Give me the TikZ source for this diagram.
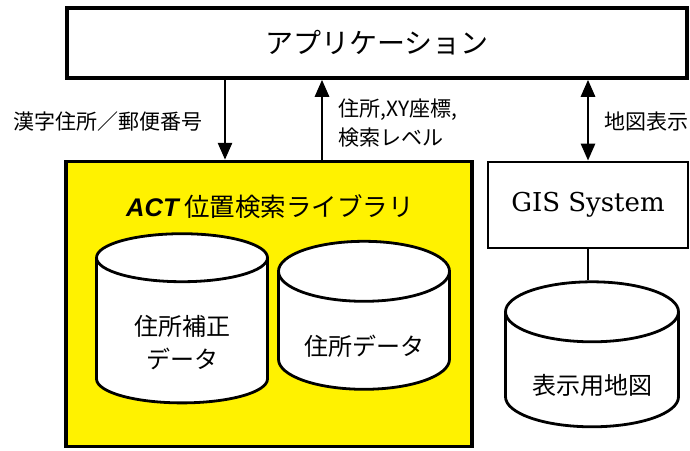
\documentclass[tikz,border=0pt]{standalone}
\usepackage{fontspec}
\newfontfamily\jpfont{Noto Sans CJK JP}
\newfontfamily\arialfont{Liberation Sans}
\newfontfamily\centuryfont{DejaVu Serif}
\usetikzlibrary{shapes.geometric,arrows.meta}

\begin{document}
\begin{tikzpicture}[x=1pt,y=-1pt,
    box/.style={draw,line width=3.5pt,fill=white,inner sep=0pt},
    db/.style={cylinder,shape border rotate=90,draw,line width=2.8pt,fill=white,
        aspect=0.5,minimum width=171pt,minimum height=148pt,inner sep=0pt,
        text height=51pt,align=center,font=\jpfont\fontsize{24}{33}\selectfont},
    arr/.style={line width=2.8pt,-{Triangle[length=17pt,width=14pt]}},
    lbl/.style={font=\jpfont\fontsize{21}{29}\selectfont,align=left}]

\useasboundingbox (0,0) rectangle (690,450);

\node[box,minimum width=620pt,minimum height=70pt,
    font=\jpfont\fontsize{28}{30}\selectfont] (app) at (377,43) {アプリケーション};
\node[box,fill=yellow,minimum width=406pt,minimum height=285pt] (act) at (269,304) {};
\node[font=\jpfont\fontsize{25.5}{30}\selectfont] (title) at (270,207)
    {{\arialfont\bfseries\itshape ACT} 位置検索ライブラリ};

\node[db,text height=69pt] (hosei) at (182,331)
    {\begin{tabular}{@{}c@{}}住所補正\\データ\end{tabular}};
\node[db] (jusho) at (364,331) {住所データ};

\node[box,line width=2.8pt,minimum width=200pt,minimum height=86pt,
    font=\centuryfont\fontsize{26}{30}\selectfont] (gis) at (588,205) {GIS System};
\node[db,minimum width=173pt,minimum height=145pt] (chizu) at (592,370) {表示用地図};

% connectors
\coordinate (dn) at (225,0);
\coordinate (up) at (322,0);
\draw[arr] (app.south -| dn) -- (act.north -| dn);
\draw[arr] (act.north -| up) -- (app.south -| up);
\draw[arr,{Triangle[length=17pt,width=14pt]}-{Triangle[length=17pt,width=14pt]}]
    (app.south -| gis) -- (gis.north);
\draw[line width=2.8pt] (gis.south) -- (gis.south |- chizu.north);

\node[lbl,anchor=east] (kanji) at (206,122) {漢字住所／郵便番号};
\node[lbl,anchor=west] (zahyo) at (335,123) {住所,XY座標,\\検索レベル};
\node[lbl,anchor=west] (hyoji) at (601,122) {地図表示};

\end{tikzpicture}
\end{document}
